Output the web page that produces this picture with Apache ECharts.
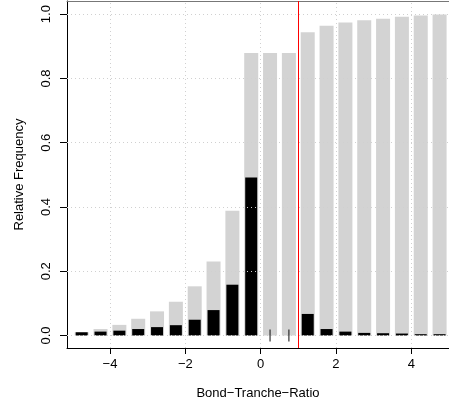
<!DOCTYPE html>
<html><head><meta charset="utf-8">
<script src="https://cdn.jsdelivr.net/npm/echarts@6/dist/echarts.min.js"></script>
<style>html,body{margin:0;padding:0;background:#fff}#c{width:449px;height:411px}</style>
</head><body><div id="c"></div>
<script>
var binCenters = [-4.75,-4.25,-3.75,-3.25,-2.75,-2.25,-1.75,-1.25,-0.75,-0.25,0.25,0.75,1.25,1.75,2.25,2.75,3.25,3.75,4.25,4.75];
var cumulative = [0.010,0.020,0.033,0.052,0.075,0.105,0.153,0.230,0.388,0.879,0.879,0.879,0.944,0.964,0.974,0.981,0.986,0.992,0.996,0.999];
var frequency  = [0.010,0.012,0.015,0.020,0.026,0.032,0.049,0.079,0.158,0.492,0,0,0.067,0.020,0.012,0.008,0.007,0.006,0.004,0.004];
var zeroMarks = [0.25, 0.75];
var xTicks = [-4,-2,0,2,4];
var yTicks = [0,0.2,0.4,0.6,0.8,1.0];
var refLine = 1;

var font = 'Liberation Sans, Arial, sans-serif';
function fmt(v){ return String(v).replace('-', '\u2212'); }
function fmtY(v){ return Number(v).toFixed(1); }

var gridLines = [];
xTicks.forEach(function(v){ gridLines.push({xAxis: v}); });
yTicks.forEach(function(v){ gridLines.push({yAxis: v}); });

var chart = echarts.init(document.getElementById('c'), null, {renderer:'canvas'});
chart.setOption({
  animation: false,
  grid: {left: 67, right: 0, top: 1, bottom: 63},
  xAxis: [{
    type: 'value', min: -5.14, max: 5.0,
    name: 'Bond\u2212Tranche\u2212Ratio', nameLocation: 'middle', nameGap: 39,
    nameTextStyle: {fontFamily: font, fontSize: 13, color: '#000'},
    axisLine: {show: true, onZero: false, lineStyle: {color: '#000', width: 1}},
    axisTick: {show: true, length: 6, customValues: xTicks, lineStyle: {color: '#000'}},
    axisLabel: {customValues: xTicks, formatter: fmt, fontFamily: font, fontSize: 13, color: '#000', margin: 10},
    splitLine: {show: false}
  },{
    type: 'value', min: -5.14, max: 5.0, position: 'top',
    axisLine: {show: true, onZero: false, lineStyle: {color: '#777', width: 1}},
    axisTick: {show: false}, axisLabel: {show: false}, splitLine: {show: false}
  },{
    type: 'value', min: -5.14, max: 5.0, show: false
  }],
  yAxis: {
    type: 'value', min: -0.039, max: 1.041,
    name: 'Relative Frequency', nameLocation: 'middle', nameGap: 41, nameRotate: 90,
    nameTextStyle: {fontFamily: font, fontSize: 13, color: '#000'},
    axisLine: {show: true, onZero: false, lineStyle: {color: '#000', width: 1}},
    axisTick: {show: true, length: 7, customValues: yTicks, lineStyle: {color: '#000'}},
    axisLabel: {customValues: yTicks, formatter: fmtY, rotate: 90, fontFamily: font, fontSize: 13, color: '#000', margin: 14},
    splitLine: {show: false}
  },
  series: [{
    type: 'bar', xAxisIndex: 0, barWidth: 14,
    itemStyle: {color: '#d3d3d3'},
    data: binCenters.map(function(x,i){ return [x, cumulative[i]]; }),
    z: 2
  },{
    type: 'bar', xAxisIndex: 2, barWidth: 12,
    itemStyle: {color: '#000'},
    data: binCenters.map(function(x,i){ return [x, frequency[i]]; }),
    z: 3,
    markLine: {
      silent: true, symbol: ['none','none'], label: {show: false}, z: 5,
      lineStyle: {color: '#d0d0d0', type: [1,3], width: 1},
      data: gridLines
    }
  },{
    type: 'scatter', xAxisIndex: 0, symbol: 'rect', symbolSize: [1.2, 12],
    itemStyle: {color: '#000'},
    data: zeroMarks.map(function(x){ return [x, 0]; }),
    z: 6,
    markLine: {
      silent: true, symbol: ['none','none'], label: {show: false}, z: 7,
      lineStyle: {color: '#ff0000', type: 'solid', width: 1},
      data: [{xAxis: refLine}]
    }
  }]
});
</script></body></html>
